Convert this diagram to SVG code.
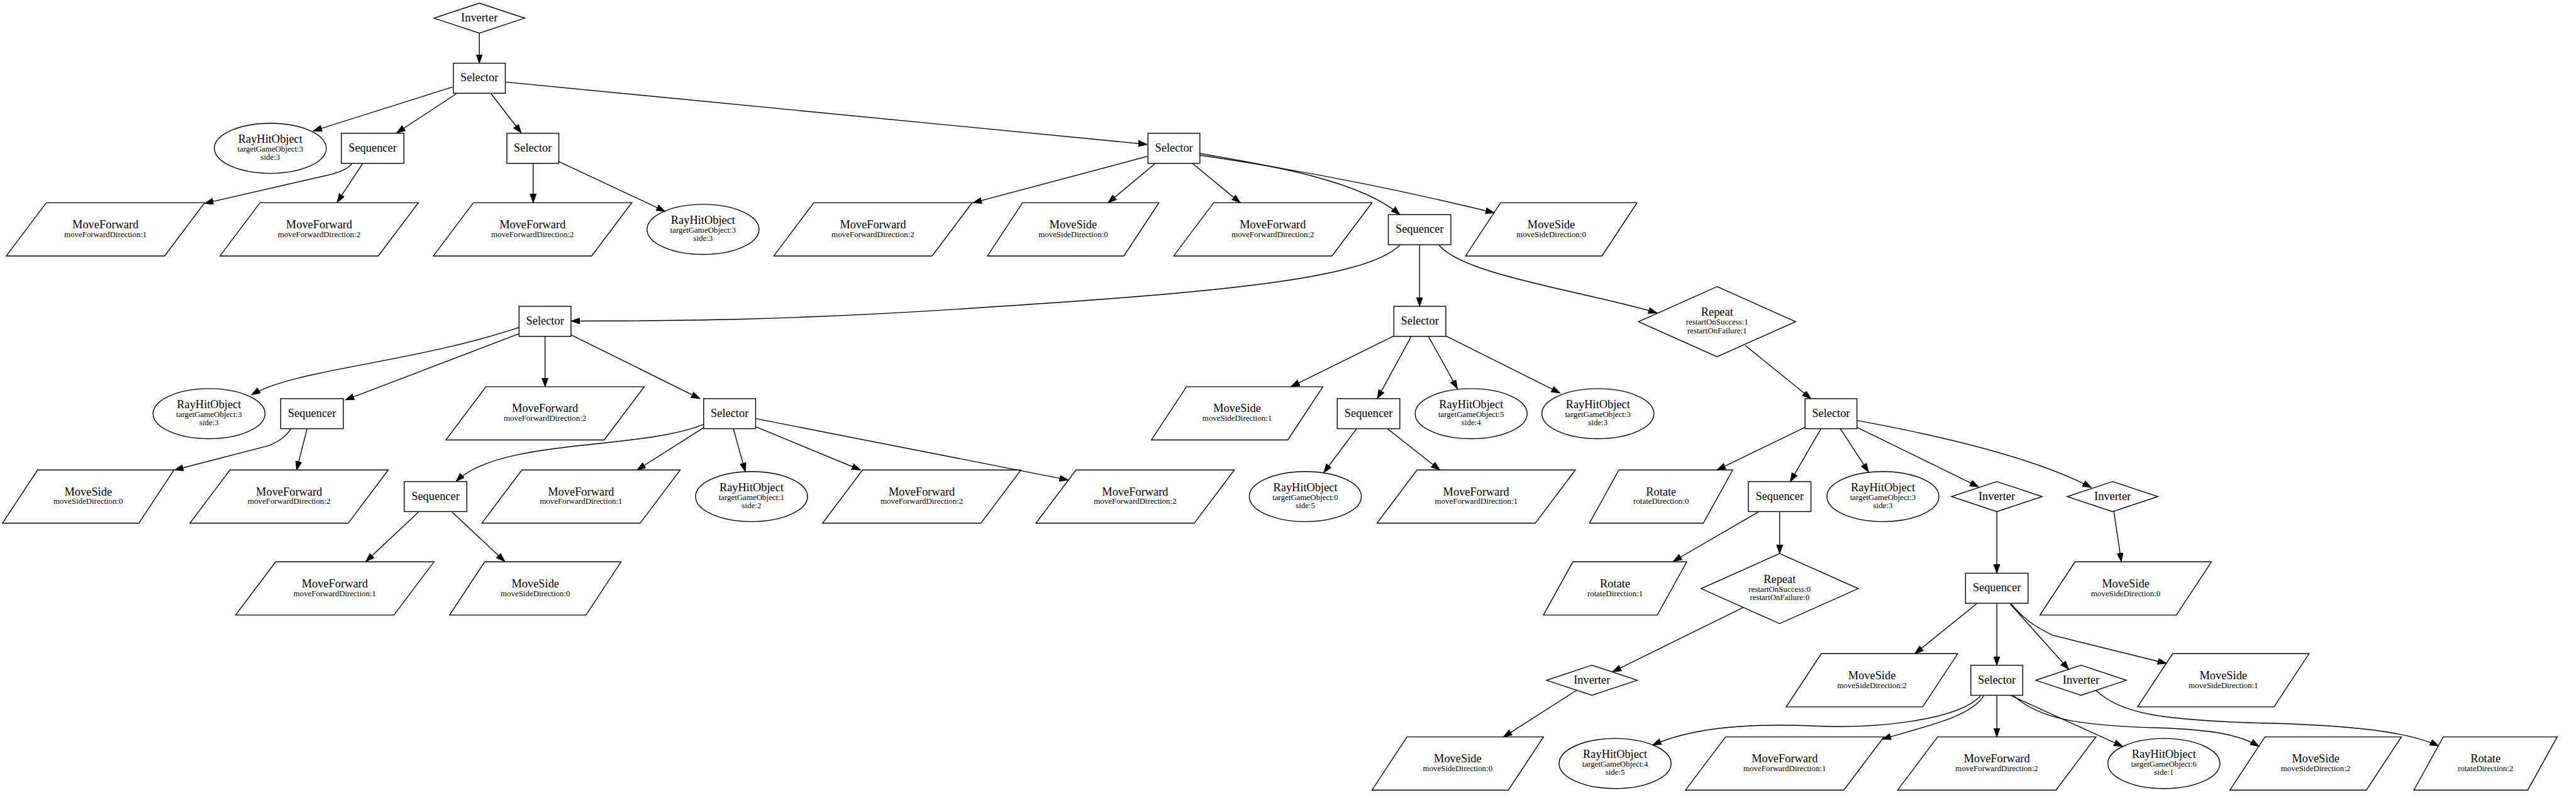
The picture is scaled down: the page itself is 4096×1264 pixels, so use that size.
<svg xmlns="http://www.w3.org/2000/svg" xmlns:xlink="http://www.w3.org/1999/xlink" width="4096" height="1264" viewBox="0 0 4096 1264">
<style>
.e{fill:none;stroke:#000;stroke-width:1.4;marker-end:url(#ah)}
.t{font-family:"Liberation Serif","Times New Roman",serif;font-size:18.5px;text-anchor:middle;fill:#000}
.s{font-family:"Liberation Serif","Times New Roman",serif;font-size:13px;text-anchor:middle;fill:#000}
</style>
<defs>
<marker id="ah" markerUnits="userSpaceOnUse" markerWidth="16" markerHeight="12" refX="14" refY="5" orient="auto"><path d="M0,0 L14,5 L0,10 z" fill="#000" stroke="#000" stroke-width="1"/></marker>
<polygon id="pMF" points="-94.5,-42.5 158.5,-42.5 94.5,42.5 -158.5,42.5" fill="none" stroke="#000" stroke-width="1.4"/>
<polygon id="pMS" points="-81,-42.5 137,-42.5 81,42.5 -137,42.5" fill="none" stroke="#000" stroke-width="1.4"/>
<polygon id="pRO" points="-67.5,-42.5 114.5,-42.5 67.5,42.5 -114.5,42.5" fill="none" stroke="#000" stroke-width="1.4"/>
<rect id="bSel" x="-41.5" y="-24" width="83" height="48" fill="none" stroke="#000" stroke-width="1.4"/>
<rect id="bSeq" x="-50" y="-24" width="100" height="48" fill="none" stroke="#000" stroke-width="1.4"/>
<polygon id="dInv" points="0,-24 72.5,0 0,24 -72.5,0" fill="none" stroke="#000" stroke-width="1.4"/>
<polygon id="dRep" points="0,-56 125.5,0 0,56 -125.5,0" fill="none" stroke="#000" stroke-width="1.4"/>
<ellipse id="eRH" cx="0" cy="0" rx="89.5" ry="40" fill="none" stroke="#000" stroke-width="1.4"/>
</defs>
<rect x="0" y="0" width="4096" height="1264" fill="#fff"/>
<g transform="scale(0.995)">
<g id="edges">
<path class="e" d="M766,53 L766,101"/>
<path class="e" d="M723,139 L500.6,209.3"/>
<path class="e" d="M729,150 L634,212.3"/>
<path class="e" d="M785,150 L833,212.3"/>
<path class="e" d="M807,131 L1833,230.7"/>
<path class="e" d="M562,262 C553,272 545,273 532,278 L327,325"/>
<path class="e" d="M579.4,261.7 L538.7,323.3"/>
<path class="e" d="M852,261 L852,324"/>
<path class="e" d="M893.4,258.3 L1062.7,337.7"/>
<path class="e" d="M1833,250 L1555,324"/>
<path class="e" d="M1846.4,261 L1770.8,324"/>
<path class="e" d="M1905.5,261 L1982,324"/>
<path class="e" d="M1917,245 C2010,262 2170,285 2237,343"/>
<path class="e" d="M1917,248 Q2150,282 2388,340"/>
<path class="e" d="M2237,391.7 C2180,450 1900,470 1546,493 S1000,512 913,513"/>
<path class="e" d="M2268.6,391 L2268.6,489.5"/>
<path class="e" d="M2299.5,391.7 C2340,440 2530,465 2648,500"/>
<path class="e" d="M830,523 C660,580 470,590 402,631"/>
<path class="e" d="M830,533 L552,639"/>
<path class="e" d="M871,538 L871,618"/>
<path class="e" d="M912.4,535 L1118.5,637"/>
<path class="e" d="M1125,678 C1020,720 800,700 729,769"/>
<path class="e" d="M1125,683 L1018,751"/>
<path class="e" d="M1172,685 L1191,753.5"/>
<path class="e" d="M1208,682 L1375,751"/>
<path class="e" d="M1208,669 L1707,767"/>
<path class="e" d="M2227,537 L2063,618"/>
<path class="e" d="M2255,538 L2201,637"/>
<path class="e" d="M2283,538 L2329,621"/>
<path class="e" d="M2311,537 L2493,628"/>
<path class="e" d="M2789,552 L2894,637"/>
<path class="e" d="M465,685 C455,700 445,705 430,712 L279,751"/>
<path class="e" d="M490.7,685 L474,751"/>
<path class="e" d="M2168,685 L2115.5,755"/>
<path class="e" d="M2217,685 L2301,751"/>
<path class="e" d="M2884,683 L2744,751"/>
<path class="e" d="M2910,685 L2861,769.5"/>
<path class="e" d="M2941,685 L2986,754"/>
<path class="e" d="M2968,683 L3162,778"/>
<path class="e" d="M2968,672 Q3230,720 3342,779"/>
<path class="e" d="M2810,818 L2674,897"/>
<path class="e" d="M2844,818 L2844,884.5"/>
<path class="e" d="M2785.6,970.7 L2577,1073.5"/>
<path class="e" d="M2519.5,1103 L2402.6,1177.7"/>
<path class="e" d="M3158.5,965 L3060,1044.5"/>
<path class="e" d="M3165,1112 C3130,1150 3000,1165 2900,1160 C2780,1155 2700,1165 2641,1190.5"/>
<path class="e" d="M3170,1112 C3150,1145 3080,1160 3008,1181"/>
<path class="e" d="M3191,1111 L3191,1177.5"/>
<path class="e" d="M3214,1111.7 L3392,1192.7"/>
<path class="e" d="M3218,1111.7 C3260,1150 3330,1160 3450,1163 C3540,1166 3580,1175 3610,1192.7"/>
<path class="e" d="M3349,1103 C3390,1140 3450,1150 3600,1155 C3760,1158 3850,1170 3897,1192"/>
<path class="e" d="M3191,964 L3191,1063"/>
<path class="e" d="M3212.4,965 L3306,1069.5"/>
<path class="e" d="M3214,965 C3235,990 3250,1000 3280,1015 L3462,1060"/>
<path class="e" d="M3191,817.5 L3191,916"/>
<path class="e" d="M3378,817 L3390,897.5"/>
<path class="e" d="M668.7,818.3 L584.6,897.3"/>
<path class="e" d="M722.6,818.3 L806.7,897.3"/>
</g>
<g id="n01"><use xlink:href="#dInv" x="766" y="29"/><text class="t" x="766" y="34">Inverter</text></g>
<g id="n02"><use xlink:href="#bSel" x="766" y="125"/><text class="t" x="766" y="130">Selector</text></g>
<g id="n03"><use xlink:href="#eRH" x="432" y="237"/><text class="t" x="432" y="228">RayHitObject</text><text class="s" x="432" y="242">targetGameObject:3</text><text class="s" x="432" y="255.5">side:3</text></g>
<g id="n04"><use xlink:href="#bSeq" x="595.5" y="237"/><text class="t" x="595.5" y="242">Sequencer</text></g>
<g id="n05"><use xlink:href="#bSel" x="851.5" y="237"/><text class="t" x="851.5" y="242">Selector</text></g>
<g id="n06"><use xlink:href="#bSel" x="1876" y="237"/><text class="t" x="1876" y="242">Selector</text></g>
<g id="n07"><use xlink:href="#pMF" x="168.5" y="366.5"/><text class="t" x="168.5" y="364.5">MoveForward</text><text class="s" x="168.5" y="378.5">moveForwardDirection:1</text></g>
<g id="n08"><use xlink:href="#pMF" x="510" y="366.5"/><text class="t" x="510" y="364.5">MoveForward</text><text class="s" x="510" y="378.5">moveForwardDirection:2</text></g>
<g id="n09"><use xlink:href="#pMF" x="851" y="366.5"/><text class="t" x="851" y="364.5">MoveForward</text><text class="s" x="851" y="378.5">moveForwardDirection:2</text></g>
<g id="n10"><use xlink:href="#eRH" x="1123.5" y="366.5"/><text class="t" x="1123.5" y="357.5">RayHitObject</text><text class="s" x="1123.5" y="371.5">targetGameObject:3</text><text class="s" x="1123.5" y="385">side:3</text></g>
<g id="n11"><use xlink:href="#pMF" x="1395" y="366.5"/><text class="t" x="1395" y="364.5">MoveForward</text><text class="s" x="1395" y="378.5">moveForwardDirection:2</text></g>
<g id="n12"><use xlink:href="#pMS" x="1715" y="366.5"/><text class="t" x="1715" y="364.5">MoveSide</text><text class="s" x="1715" y="378.5">moveSideDirection:0</text></g>
<g id="n13"><use xlink:href="#pMF" x="2034" y="366.5"/><text class="t" x="2034" y="364.5">MoveForward</text><text class="s" x="2034" y="378.5">moveForwardDirection:2</text></g>
<g id="n14"><use xlink:href="#bSeq" x="2268.6" y="367"/><text class="t" x="2268.6" y="372">Sequencer</text></g>
<g id="n15"><use xlink:href="#pMS" x="2479" y="366.5"/><text class="t" x="2479" y="364.5">MoveSide</text><text class="s" x="2479" y="378.5">moveSideDirection:0</text></g>
<g id="n16"><use xlink:href="#bSel" x="871" y="513.5"/><text class="t" x="871" y="518.5">Selector</text></g>
<g id="n17"><use xlink:href="#bSel" x="2269" y="513.5"/><text class="t" x="2269" y="518.5">Selector</text></g>
<g id="n18"><use xlink:href="#dRep" x="2744" y="514"/><text class="t" x="2744" y="505">Repeat</text><text class="s" x="2744" y="519">restartOnSuccess:1</text><text class="s" x="2744" y="532.5">restartOnFailure:1</text></g>
<g id="n19"><use xlink:href="#eRH" x="334" y="661"/><text class="t" x="334" y="652">RayHitObject</text><text class="s" x="334" y="666">targetGameObject:3</text><text class="s" x="334" y="679.5">side:3</text></g>
<g id="n20"><use xlink:href="#bSeq" x="498.6" y="661"/><text class="t" x="498.6" y="666">Sequencer</text></g>
<g id="n21"><use xlink:href="#pMF" x="871" y="660.5"/><text class="t" x="871" y="658.5">MoveForward</text><text class="s" x="871" y="672.5">moveForwardDirection:2</text></g>
<g id="n22"><use xlink:href="#bSel" x="1166" y="661"/><text class="t" x="1166" y="666">Selector</text></g>
<g id="n23"><use xlink:href="#pMS" x="1977" y="660.5"/><text class="t" x="1977" y="658.5">MoveSide</text><text class="s" x="1977" y="672.5">moveSideDirection:1</text></g>
<g id="n24"><use xlink:href="#bSeq" x="2187" y="661"/><text class="t" x="2187" y="666">Sequencer</text></g>
<g id="n25"><use xlink:href="#eRH" x="2351" y="661"/><text class="t" x="2351" y="652">RayHitObject</text><text class="s" x="2351" y="666">targetGameObject:5</text><text class="s" x="2351" y="679.5">side:4</text></g>
<g id="n26"><use xlink:href="#eRH" x="2553.5" y="661"/><text class="t" x="2553.5" y="652">RayHitObject</text><text class="s" x="2553.5" y="666">targetGameObject:3</text><text class="s" x="2553.5" y="679.5">side:3</text></g>
<g id="n27"><use xlink:href="#bSel" x="2926" y="661"/><text class="t" x="2926" y="666">Selector</text></g>
<g id="n28"><use xlink:href="#pMS" x="141" y="793.5"/><text class="t" x="141" y="791.5">MoveSide</text><text class="s" x="141" y="805.5">moveSideDirection:0</text></g>
<g id="n29"><use xlink:href="#pMF" x="462" y="793.5"/><text class="t" x="462" y="791.5">MoveForward</text><text class="s" x="462" y="805.5">moveForwardDirection:2</text></g>
<g id="n30"><use xlink:href="#bSeq" x="696" y="793.5"/><text class="t" x="696" y="798.5">Sequencer</text></g>
<g id="n31"><use xlink:href="#pMF" x="928.5" y="793.5"/><text class="t" x="928.5" y="791.5">MoveForward</text><text class="s" x="928.5" y="805.5">moveForwardDirection:1</text></g>
<g id="n32"><use xlink:href="#eRH" x="1201" y="793.5"/><text class="t" x="1201" y="784.5">RayHitObject</text><text class="s" x="1201" y="798.5">targetGameObject:1</text><text class="s" x="1201" y="812">side:2</text></g>
<g id="n33"><use xlink:href="#pMF" x="1473" y="793.5"/><text class="t" x="1473" y="791.5">MoveForward</text><text class="s" x="1473" y="805.5">moveForwardDirection:2</text></g>
<g id="n34"><use xlink:href="#pMF" x="1814" y="793.5"/><text class="t" x="1814" y="791.5">MoveForward</text><text class="s" x="1814" y="805.5">moveForwardDirection:2</text></g>
<g id="n35"><use xlink:href="#eRH" x="2086" y="793.5"/><text class="t" x="2086" y="784.5">RayHitObject</text><text class="s" x="2086" y="798.5">targetGameObject:0</text><text class="s" x="2086" y="812">side:5</text></g>
<g id="n36"><use xlink:href="#pMF" x="2359" y="793.5"/><text class="t" x="2359" y="791.5">MoveForward</text><text class="s" x="2359" y="805.5">moveForwardDirection:1</text></g>
<g id="n37"><use xlink:href="#pRO" x="2654.5" y="793.5"/><text class="t" x="2654.5" y="791.5">Rotate</text><text class="s" x="2654.5" y="805.5">rotateDirection:0</text></g>
<g id="n38"><use xlink:href="#bSeq" x="2844" y="793.5"/><text class="t" x="2844" y="798.5">Sequencer</text></g>
<g id="n39"><use xlink:href="#eRH" x="3009" y="793.5"/><text class="t" x="3009" y="784.5">RayHitObject</text><text class="s" x="3009" y="798.5">targetGameObject:3</text><text class="s" x="3009" y="812">side:3</text></g>
<g id="n40"><use xlink:href="#dInv" x="3191" y="793.5"/><text class="t" x="3191" y="798.5">Inverter</text></g>
<g id="n41"><use xlink:href="#dInv" x="3376" y="793.5"/><text class="t" x="3376" y="798.5">Inverter</text></g>
<g id="n42"><use xlink:href="#pMF" x="535" y="940.3"/><text class="t" x="535" y="938.3">MoveForward</text><text class="s" x="535" y="952.3">moveForwardDirection:1</text></g>
<g id="n43"><use xlink:href="#pMS" x="855.5" y="940.3"/><text class="t" x="855.5" y="938.3">MoveSide</text><text class="s" x="855.5" y="952.3">moveSideDirection:0</text></g>
<g id="n44"><use xlink:href="#pRO" x="2581" y="940.3"/><text class="t" x="2581" y="938.3">Rotate</text><text class="s" x="2581" y="952.3">rotateDirection:1</text></g>
<g id="n45"><use xlink:href="#dRep" x="2844" y="940.5"/><text class="t" x="2844" y="931.5">Repeat</text><text class="s" x="2844" y="945.5">restartOnSuccess:0</text><text class="s" x="2844" y="959">restartOnFailure:0</text></g>
<g id="n46"><use xlink:href="#bSeq" x="3191" y="940"/><text class="t" x="3191" y="945">Sequencer</text></g>
<g id="n47"><use xlink:href="#pMS" x="3397" y="940.3"/><text class="t" x="3397" y="938.3">MoveSide</text><text class="s" x="3397" y="952.3">moveSideDirection:0</text></g>
<g id="n48"><use xlink:href="#dInv" x="2544" y="1087"/><text class="t" x="2544" y="1092">Inverter</text></g>
<g id="n49"><use xlink:href="#pMS" x="2991.5" y="1087"/><text class="t" x="2991.5" y="1085">MoveSide</text><text class="s" x="2991.5" y="1099">moveSideDirection:2</text></g>
<g id="n50"><use xlink:href="#bSel" x="3191" y="1087"/><text class="t" x="3191" y="1092">Selector</text></g>
<g id="n51"><use xlink:href="#dInv" x="3325.6" y="1087"/><text class="t" x="3325.6" y="1092">Inverter</text></g>
<g id="n52"><use xlink:href="#pMS" x="3553" y="1087"/><text class="t" x="3553" y="1085">MoveSide</text><text class="s" x="3553" y="1099">moveSideDirection:1</text></g>
<g id="n53"><use xlink:href="#pMS" x="2329.5" y="1220"/><text class="t" x="2329.5" y="1218">MoveSide</text><text class="s" x="2329.5" y="1232">moveSideDirection:0</text></g>
<g id="n54"><use xlink:href="#eRH" x="2581" y="1220"/><text class="t" x="2581" y="1211">RayHitObject</text><text class="s" x="2581" y="1225">targetGameObject:4</text><text class="s" x="2581" y="1238.5">side:5</text></g>
<g id="n55"><use xlink:href="#pMF" x="2852" y="1220"/><text class="t" x="2852" y="1218">MoveForward</text><text class="s" x="2852" y="1232">moveForwardDirection:1</text></g>
<g id="n56"><use xlink:href="#pMF" x="3191" y="1220"/><text class="t" x="3191" y="1218">MoveForward</text><text class="s" x="3191" y="1232">moveForwardDirection:2</text></g>
<g id="n57"><use xlink:href="#eRH" x="3458" y="1220"/><text class="t" x="3458" y="1211">RayHitObject</text><text class="s" x="3458" y="1225">targetGameObject:6</text><text class="s" x="3458" y="1238.5">side:1</text></g>
<g id="n58"><use xlink:href="#pMS" x="3700.5" y="1220"/><text class="t" x="3700.5" y="1218">MoveSide</text><text class="s" x="3700.5" y="1232">moveSideDirection:2</text></g>
<g id="n59"><use xlink:href="#pRO" x="3972" y="1220"/><text class="t" x="3972" y="1218">Rotate</text><text class="s" x="3972" y="1232">rotateDirection:2</text></g>
</g>
</svg>
